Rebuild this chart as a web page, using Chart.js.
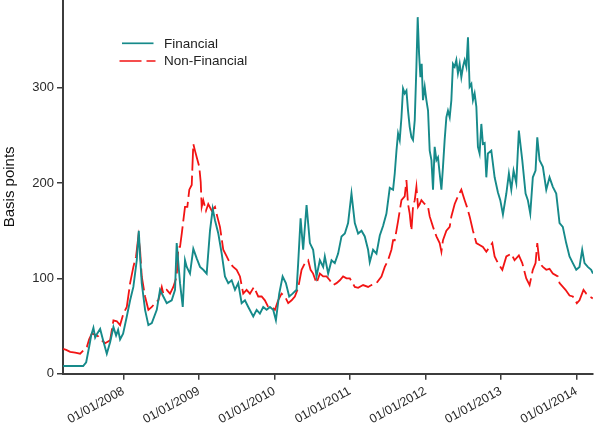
<!DOCTYPE html>
<html>
<head>
<meta charset="utf-8">
<script src="https://cdn.jsdelivr.net/npm/chart.js@4.4.1/dist/chart.umd.min.js"></script>
<style>
  html, body { margin: 0; padding: 0; background: #ffffff; }
  #wrap { width: 598px; height: 443px; }
</style>
</head>
<body>
<div id="wrap"><canvas id="c" width="598" height="443"></canvas></div>
<script>
// ---- Data (decimal years, basis points) ----
const seriesNames = ["Financial", "Non-Financial"];

const finDates = [2007.202,2007.295,2007.374,2007.467,2007.507,2007.546,2007.573,2007.603,2007.626,2007.652,2007.692,2007.731,2007.780,2007.824,2007.868,2007.903,2007.930,2007.956,2007.996,
2008.045,2008.089,2008.132,2008.177,2008.204,2008.221,2008.243,2008.287,2008.331,2008.376,2008.442,2008.485,2008.529,2008.574,2008.640,2008.684,2008.706,2008.750,2008.786,2008.816,2008.839,2008.882,2008.926,2008.971,
2009.015,2009.058,2009.103,2009.147,2009.183,2009.213,2009.257,2009.302,2009.345,2009.389,2009.434,2009.478,2009.521,2009.566,2009.610,2009.654,2009.720,2009.765,2009.808,2009.852,2009.897,2009.941,2009.984,
2010.020,2010.064,2010.109,2010.152,2010.196,2010.241,2010.294,2010.315,2010.347,2010.381,2010.426,2010.470,2010.513,2010.558,2010.602,2010.646,2010.668,2010.712,2010.757,2010.800,2010.844,2010.889,2010.933,2010.976,
2011.021,2011.065,2011.109,2011.154,2011.197,2011.241,2011.263,2011.307,2011.352,2011.396,2011.439,2011.484,2011.528,2011.572,2011.594,2011.617,2011.638,2011.660,2011.683,2011.704,2011.726,2011.749,2011.770,2011.792,2011.815,2011.836,2011.859,2011.881,2011.898,2011.916,2011.934,2011.951,2011.968,2011.991,
2012.013,2012.035,2012.057,2012.080,2012.101,2012.123,2012.146,2012.167,2012.189,2012.212,2012.233,2012.255,2012.278,2012.299,2012.322,2012.344,2012.365,2012.388,2012.410,2012.431,2012.454,2012.476,2012.498,2012.520,2012.543,2012.564,2012.586,2012.609,2012.630,2012.652,2012.675,2012.696,2012.718,2012.741,2012.762,2012.785,2012.807,2012.828,2012.873,2012.917,2012.961,2012.992,
2013.027,2013.072,2013.106,2013.138,2013.168,2013.204,2013.238,2013.283,2013.327,2013.357,2013.389,2013.423,2013.459,2013.482,2013.512,2013.556,2013.601,2013.644,2013.688,2013.733,2013.777,2013.820,2013.865,2013.909,2013.953,2013.998,
2014.041,2014.077,2014.108,2014.151,2014.196,2014.220];
const finValues = [8,8,8,8,12,28,40,48,38,42,47,35,21,33,49,40,46,36,42,
60,77,91,119,150,123,95,67,51,53,67,88,81,74,77,88,137,95,70,119,112,105,131,121,
112,109,105,150,173,161,147,126,102,95,98,88,95,74,77,70,60,67,63,70,67,70,67,
56,84,102,95,81,84,88,116,163,130,177,137,130,102,119,112,123,105,119,116,126,144,147,158,
189,158,147,150,144,130,117,130,126,145,155,168,195,193,210,234,252,245,269,299,294,297,276,259,248,245,266,322,374,336,311,325,287,301,
287,276,234,224,193,238,224,227,210,193,217,245,269,276,269,287,325,322,329,315,325,311,322,329,322,353,301,304,287,294,280,238,231,262,241,242,206,231,234,206,190,182,
167,189,210,193,213,200,255,224,189,182,168,206,213,248,224,217,193,206,196,189,158,154,137,123,116,109,
112,130,116,112,109,105];

const nonFinDates = [2007.202,2007.242,2007.295,2007.361,2007.427,2007.516,2007.546,2007.582,2007.626,2007.669,2007.714,2007.758,2007.824,2007.868,2007.913,2007.956,
2008.000,2008.045,2008.089,2008.132,2008.168,2008.198,2008.221,2008.243,2008.287,2008.331,2008.376,2008.419,2008.463,2008.508,2008.529,2008.574,2008.618,2008.661,2008.706,2008.728,2008.750,2008.773,2008.816,2008.847,2008.873,2008.905,2008.926,2008.948,2008.971,
2009.005,2009.024,2009.037,2009.058,2009.094,2009.124,2009.169,2009.213,2009.243,2009.279,2009.323,2009.368,2009.411,2009.455,2009.500,2009.544,2009.587,2009.632,2009.676,2009.729,2009.786,2009.831,2009.874,2009.918,2009.963,
2010.007,2010.050,2010.095,2010.139,2010.183,2010.228,2010.271,2010.315,2010.360,2010.404,2010.447,2010.479,2010.513,2010.558,2010.602,2010.646,2010.691,2010.734,2010.778,2010.823,2010.867,2010.910,2010.955,2010.999,
2011.065,2011.109,2011.175,2011.241,2011.286,2011.352,2011.418,2011.462,2011.505,2011.550,2011.572,2011.594,2011.638,2011.683,2011.726,2011.749,2011.770,2011.792,2011.815,2011.836,2011.859,2011.881,2011.902,2011.925,2011.947,2011.991,
2012.035,2012.057,2012.101,2012.146,2012.189,2012.212,2012.233,2012.278,2012.322,2012.344,2012.388,2012.431,2012.476,2012.520,2012.550,2012.586,2012.630,2012.675,2012.718,2012.762,2012.807,2012.851,2012.886,2012.917,2012.961,
2013.019,2013.072,2013.138,2013.181,2013.238,2013.283,2013.336,2013.380,2013.423,2013.459,2013.482,2013.512,2013.556,2013.601,2013.644,2013.688,2013.754,2013.777,2013.856,2013.909,2013.953,
2014.006,2014.041,2014.094,2014.130,2014.174,2014.217];
const nonFinValues = [26,25,23,22,21,28,36,42,41,39,35,32,35,56,55,51,
63,70,95,112,123,144,130,102,81,67,70,74,77,91,84,88,84,91,102,133,133,147,175,175,193,198,241,234,227,
217,201,175,182,171,178,171,175,165,154,130,123,116,112,109,102,84,88,84,91,81,81,77,70,70,
67,77,84,81,74,77,81,90,109,116,119,109,105,95,105,102,102,98,93,95,98,102,100,100,
91,90,93,91,93,95,102,112,119,130,140,140,160,182,186,203,178,168,150,175,182,196,175,178,182,178,
175,165,154,144,137,128,140,150,154,165,178,186,193,182,175,165,150,137,135,133,128,133,137,123,116,
109,123,126,119,124,116,100,93,109,116,137,116,112,109,110,105,102,95,88,82,81,
74,77,88,84,81,79];

const xTickYears = [2008, 2009, 2010, 2011, 2012, 2013, 2014];
const xTickLabels = ["01/01/2008","01/01/2009","01/01/2010","01/01/2011","01/01/2012","01/01/2013","01/01/2014"];
const yTicks = [0, 100, 200, 300];
const yAxisTitle = "Basis points";

// ---- Chart ----
const TEAL = "#168a8a";
const RED = "#f21414";
const AXIS = "#3c3c3c";
const FONT = "'Liberation Sans', Arial, Helvetica, sans-serif";

const toPts = (xs, ys) => xs.map((x, i) => ({ x: x, y: ys[i] }));

const insideLegend = {
  id: "insideLegend",
  afterDatasetsDraw(chart) {
    const ctx = chart.ctx;
    const items = chart.data.datasets;
    const rows = [43.3, 61];
    ctx.save();
    items.forEach((ds, i) => {
      const y = rows[i];
      ctx.beginPath();
      ctx.strokeStyle = ds.borderColor;
      ctx.lineWidth = 1.7;
      ctx.setLineDash(ds.borderDash || []);
      ctx.moveTo(i === 0 ? 122 : 119.5, y);
      ctx.lineTo(i === 0 ? 153.5 : 155.5, y);
      ctx.stroke();
      ctx.setLineDash([]);
      ctx.fillStyle = "#222";
      ctx.font = "13.5px " + FONT;
      ctx.textBaseline = "middle";
      ctx.textAlign = "left";
      ctx.fillText(ds.label, 164, y + 0.5);
    });
    ctx.restore();
  }
};

new Chart(document.getElementById("c"), {
  type: "line",
  data: {
    datasets: [
      {
        label: seriesNames[0],
        data: toPts(finDates, finValues),
        borderColor: TEAL,
        borderWidth: 1.9,
        pointRadius: 0,
        tension: 0,
        fill: false
      },
      {
        label: seriesNames[1],
        data: toPts(nonFinDates, nonFinValues),
        borderColor: RED,
        borderWidth: 1.8,
        borderDash: [22, 5],
        pointRadius: 0,
        tension: 0,
        fill: false
      }
    ]
  },
  options: {
    responsive: false,
    animation: false,
    events: [],
    layout: { padding: { left: 0, right: 5, top: 0, bottom: 0 } },
    plugins: {
      legend: { display: false },
      tooltip: { enabled: false },
      title: { display: false }
    },
    scales: {
      x: {
        type: "linear",
        min: 2007.2,
        max: 2014.22,
        afterBuildTicks: (s) => { s.ticks = xTickYears.map(v => ({ value: v })); },
        afterFit: (s) => { s.height = 69.3; s.paddingLeft = 0; s.paddingRight = 0; },
        grid: { display: true, drawOnChartArea: false, drawTicks: true, tickLength: 6, color: AXIS, lineWidth: 1.5 },
        border: { display: true, color: AXIS, width: 2 },
        ticks: {
          autoSkip: false,
          minRotation: 29,
          maxRotation: 29,
          padding: 4,
          color: "#2a2a2a",
          font: { family: FONT, size: 12.5 },
          callback: (v, i) => xTickLabels[i]
        }
      },
      y: {
        type: "linear",
        min: 0,
        max: 392,
        afterBuildTicks: (s) => { s.ticks = yTicks.map(v => ({ value: v })); },
        afterFit: (s) => { s.width = 63; s.paddingTop = 0; s.paddingBottom = 0; },
        grid: { display: true, drawOnChartArea: false, drawTicks: true, tickLength: 6, color: AXIS, lineWidth: 1.5 },
        border: { display: true, color: AXIS, width: 2 },
        ticks: {
          padding: 3,
          color: "#2a2a2a",
          font: { family: FONT, size: 13 },
          callback: (v) => String(v)
        },
        title: {
          display: true,
          text: yAxisTitle,
          color: "#111",
          font: { family: FONT, size: 15 },
          padding: { top: 1, bottom: 0 }
        }
      }
    }
  },
  plugins: [insideLegend]
});
</script>
</body>
</html>
